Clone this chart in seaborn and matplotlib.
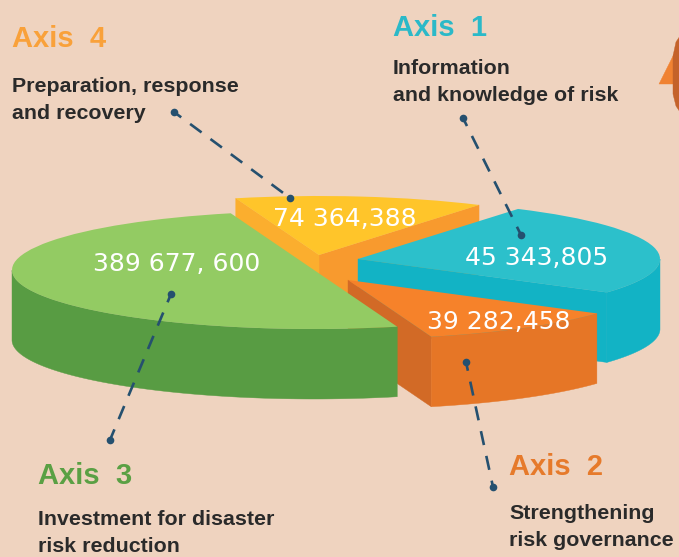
import numpy as np
import matplotlib
matplotlib.use("Agg")
import matplotlib.pyplot as plt
from matplotlib.patches import Polygon
import seaborn as sns

# ---- data -------------------------------------------------------------
axes_names = ["Axis  4", "Axis  3", "Axis  2", "Axis  1"]
descriptions = ["Preparation, response\nand recovery",
                "Investment for disaster\nrisk reduction",
                "Strengthening\nrisk governance",
                "Information\nand knowledge of risk"]
value_labels = ["74 364,388", "389 677, 600", "39 282,458", "45 343,805"]
# the picture is not drawn to scale: shares of the circle
slice_shares = [48.0, 180.0, 39.5, 92.5]

top_colors = ["#ffc52a", "#93cb63", "#f6822a", "#2cc0cb"]
wall_colors = ["#f89a2e", "#589c43", "#e67626", "#12b3c5"]
cut_colors = ["#f89a2e", "#589c43", "#d26a26", "#12b3c5"]
name_colors = ["#f9a13a", "#5aa044", "#e67a2b", "#2bb9c8"]
BG = "#efd3bf"
INK = "#2a2a2a"
LEAD = "#25506f"

W, H = 679, 557
CX, CY, RX, RY = 314.0, 270.0, 302.0, 59.0
DEPTH = 70.0 / RY


def P(x, y):
    """pixel of the picture -> pie data coordinates"""
    return (x - CX) / RX, (CY - y) / RY


sns.set_theme(style="white", rc={"figure.facecolor": BG, "axes.facecolor": BG})
plt.rcParams["font.family"] = ["Liberation Sans", "DejaVu Sans"]

fig = plt.figure(figsize=(W / 100, H / 100), dpi=100, facecolor=BG)
ax = fig.add_axes([0, 0, 1, 1])

wedges, _ = ax.pie(slice_shares, colors=top_colors, startangle=58.0, counterclock=True,
                   radius=1.0, wedgeprops={"linewidth": 0})
ax.set_aspect("auto")
ax.set_xlim(P(0, 0)[0], P(W, 0)[0])
ax.set_ylim(P(0, H)[1], P(0, 0)[1])
ax.set_axis_off()
fig.patch.set_facecolor(BG)

apexes_px = [(319, 255), (314, 270), (348, 280), (358, 259)]
draw_rank = [0, 3, 2, 1]  # yellow, then teal, orange, green on top


def face(pts, color, z):
    ax.add_patch(Polygon(pts, closed=True, facecolor=color, edgecolor=color,
                         linewidth=0.3, zorder=z))


def cut(cx, cy, a, color, z):
    x, y = cx + np.cos(a), cy + np.sin(a)
    face([(cx, cy), (x, y), (x, y - DEPTH), (cx, cy - DEPTH)], color, z)


for i, w in enumerate(wedges):
    cx, cy = P(*apexes_px[i])
    w.set_center((cx, cy))
    z = 2 + draw_rank[i] * 3
    w.set_zorder(z + 2)
    a1, a2 = np.radians(w.theta1), np.radians(w.theta2)
    # straight cut faces, only those turned towards the viewer
    if np.sin(a1 - np.pi / 2) < 0:
        cut(cx, cy, a1, cut_colors[i], z)
    if np.sin(a2 + np.pi / 2) < 0:
        cut(cx, cy, a2, "#fbae2e" if i == 0 else cut_colors[i], z + 0.5)
    # curved outer wall, front half only
    t = np.linspace(a1, a2, 500)
    t = t[np.sin(t) <= 0]
    if t.size:
        top = np.c_[cx + np.cos(t), cy + np.sin(t)]
        bottom = top[::-1] - [0, DEPTH]
        face(np.vstack([top, bottom]), wall_colors[i], z + 1)

# cropped ornament at the top right
face([P(659, 84), P(674, 54), P(674, 84)], "#f08232", 3)
face([P(680, 36), P(676, 42), P(673, 56), P(673, 94), P(676, 106), P(680, 112)], "#c4622a", 3.2)

# leaders
leaders = [((174, 112), (290, 198)), ((463, 118), (521, 235)),
           ((171, 294), (110, 440)), ((466, 362), (493, 487))]
for a, b in leaders:
    pa, pb = P(*a), P(*b)
    ax.plot([pa[0], pb[0]], [pa[1], pb[1]], color=LEAD, lw=1.9,
            linestyle=(2, (5.4, 4.2)), zorder=20)
    ax.plot([pa[0], pb[0]], [pa[1], pb[1]], "o", ms=5.5, color=LEAD, mew=0, zorder=21)

# value labels
value_pos = [(345, 219), (177, 264), (499, 322), (537, 258)]
for lab, (x, y) in zip(value_labels, value_pos):
    ax.text(*P(x, y), lab, color="white", ha="center", va="center", fontsize=18.0,
            family=["DejaVu Sans"], zorder=22)

# headings and descriptions
name_pos = [(12, 39), (38, 476), (509, 467), (393, 28)]
desc_pos = [(12, 100), (38, 533), (509, 527), (393, 82)]
for i in range(4):
    ax.text(*P(*name_pos[i]), axes_names[i], color=name_colors[i], ha="left", va="center",
            fontsize=21, fontweight="bold", zorder=22)
    ax.text(*P(*desc_pos[i]), descriptions[i], color=INK, ha="left", va="center",
            fontsize=15.4, fontweight="bold", linespacing=1.52, zorder=22)

fig.savefig("out.png", dpi=100, facecolor=BG)
